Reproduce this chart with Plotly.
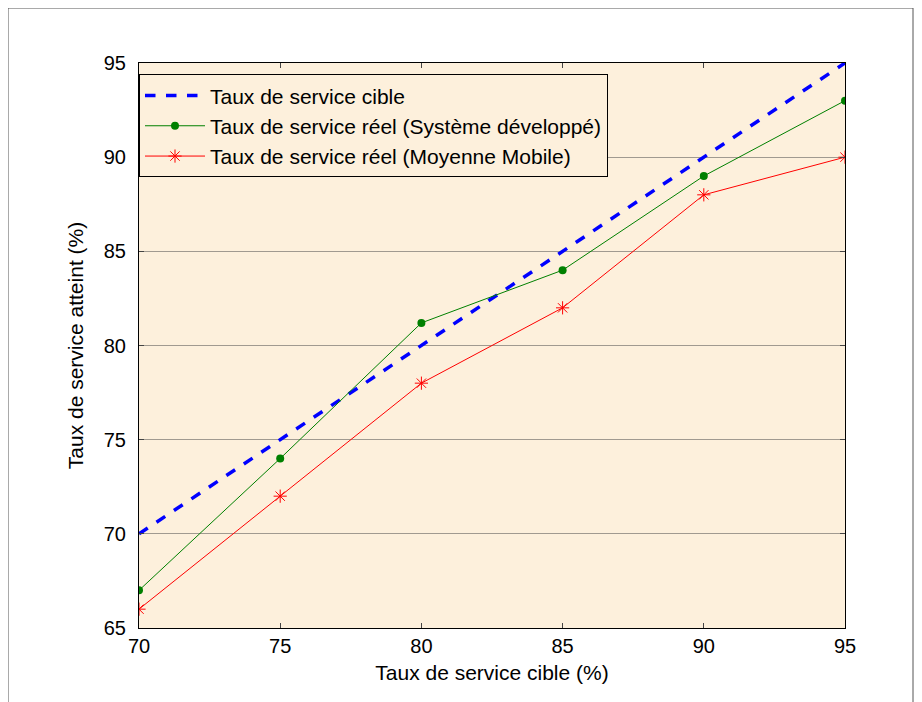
import plotly.graph_objects as go

x_cible = [70, 75, 80, 85, 90, 95]
y_cible = [70, 75, 80, 85, 90, 95]
y_systeme = [67, 74, 81.2, 84, 89, 93]
y_moyenne = [66, 72, 78, 82, 88, 90]
x_ticks = [70, 75, 80, 85, 90, 95]
y_ticks = [65, 70, 75, 80, 85, 90, 95]

bg = "#FDF0DC"
fig = go.Figure()
fig.add_trace(go.Scatter(x=x_cible, y=y_cible, mode="lines", name="Taux de service cible",
                         line=dict(color="#0000FF", width=3.5, dash="dash")))
fig.add_trace(go.Scatter(x=x_cible, y=y_systeme, mode="lines+markers",
                         name="Taux de service réel (Système développé)",
                         line=dict(color="#008000", width=1),
                         marker=dict(color="#008000", size=8, symbol="circle")))
fig.add_trace(go.Scatter(x=x_cible, y=y_moyenne, mode="lines+markers",
                         name="Taux de service réel (Moyenne Mobile)",
                         line=dict(color="#FF0000", width=1),
                         marker=dict(color="#FF0000", size=11, symbol="asterisk-open",
                                     line=dict(color="#FF0000", width=1))))

OFF = 8  # page body margin
W, H = 922, 702
L, R, T, B = 139 - OFF, 922 - 845 + OFF, 63 - OFF, 702 - 628 + OFF
pw, ph = W - L - R, H - T - B

fig.update_layout(
    width=W, height=H,
    margin=dict(l=L, r=R, t=T, b=B),
    paper_bgcolor="white", plot_bgcolor=bg,
    font=dict(family="Liberation Sans, Arial", size=21, color="black"),
    showlegend=True,
    legend=dict(x=0.0, y=0.98, xanchor="left", yanchor="top", bgcolor=bg,
                bordercolor="black", borderwidth=1, font=dict(size=21),
                itemwidth=60),
    xaxis=dict(range=[70, 95], tickvals=x_ticks, ticks="inside", ticklen=5,
               showline=True, linecolor="black", linewidth=1, mirror="ticks",
               showgrid=False, zeroline=False, tickfont=dict(size=20),
               title=dict(text="Taux de service cible (%)", font=dict(size=21), standoff=9)),
    yaxis=dict(range=[65, 95], tickvals=y_ticks, ticks="inside", ticklen=5,
               showline=True, linecolor="black", linewidth=1, mirror="ticks",
               showgrid=True, gridcolor="#A09A90", gridwidth=1, zeroline=False,
               tickfont=dict(size=20), ticklabelstandoff=8,
               title=dict(text="Taux de service atteint (%)", font=dict(size=21), standoff=14)),
    shapes=[dict(type="rect", xref="paper", yref="paper",
                 x0=(0 - L) / pw, x1=(913 - OFF - L) / pw,
                 y0=-(720 - (H - B)) / ph,
                 y1=(H - B) / ph,
                 line=dict(color="#555555", width=1), layer="below")],
)
fig.write_html("out.html")
